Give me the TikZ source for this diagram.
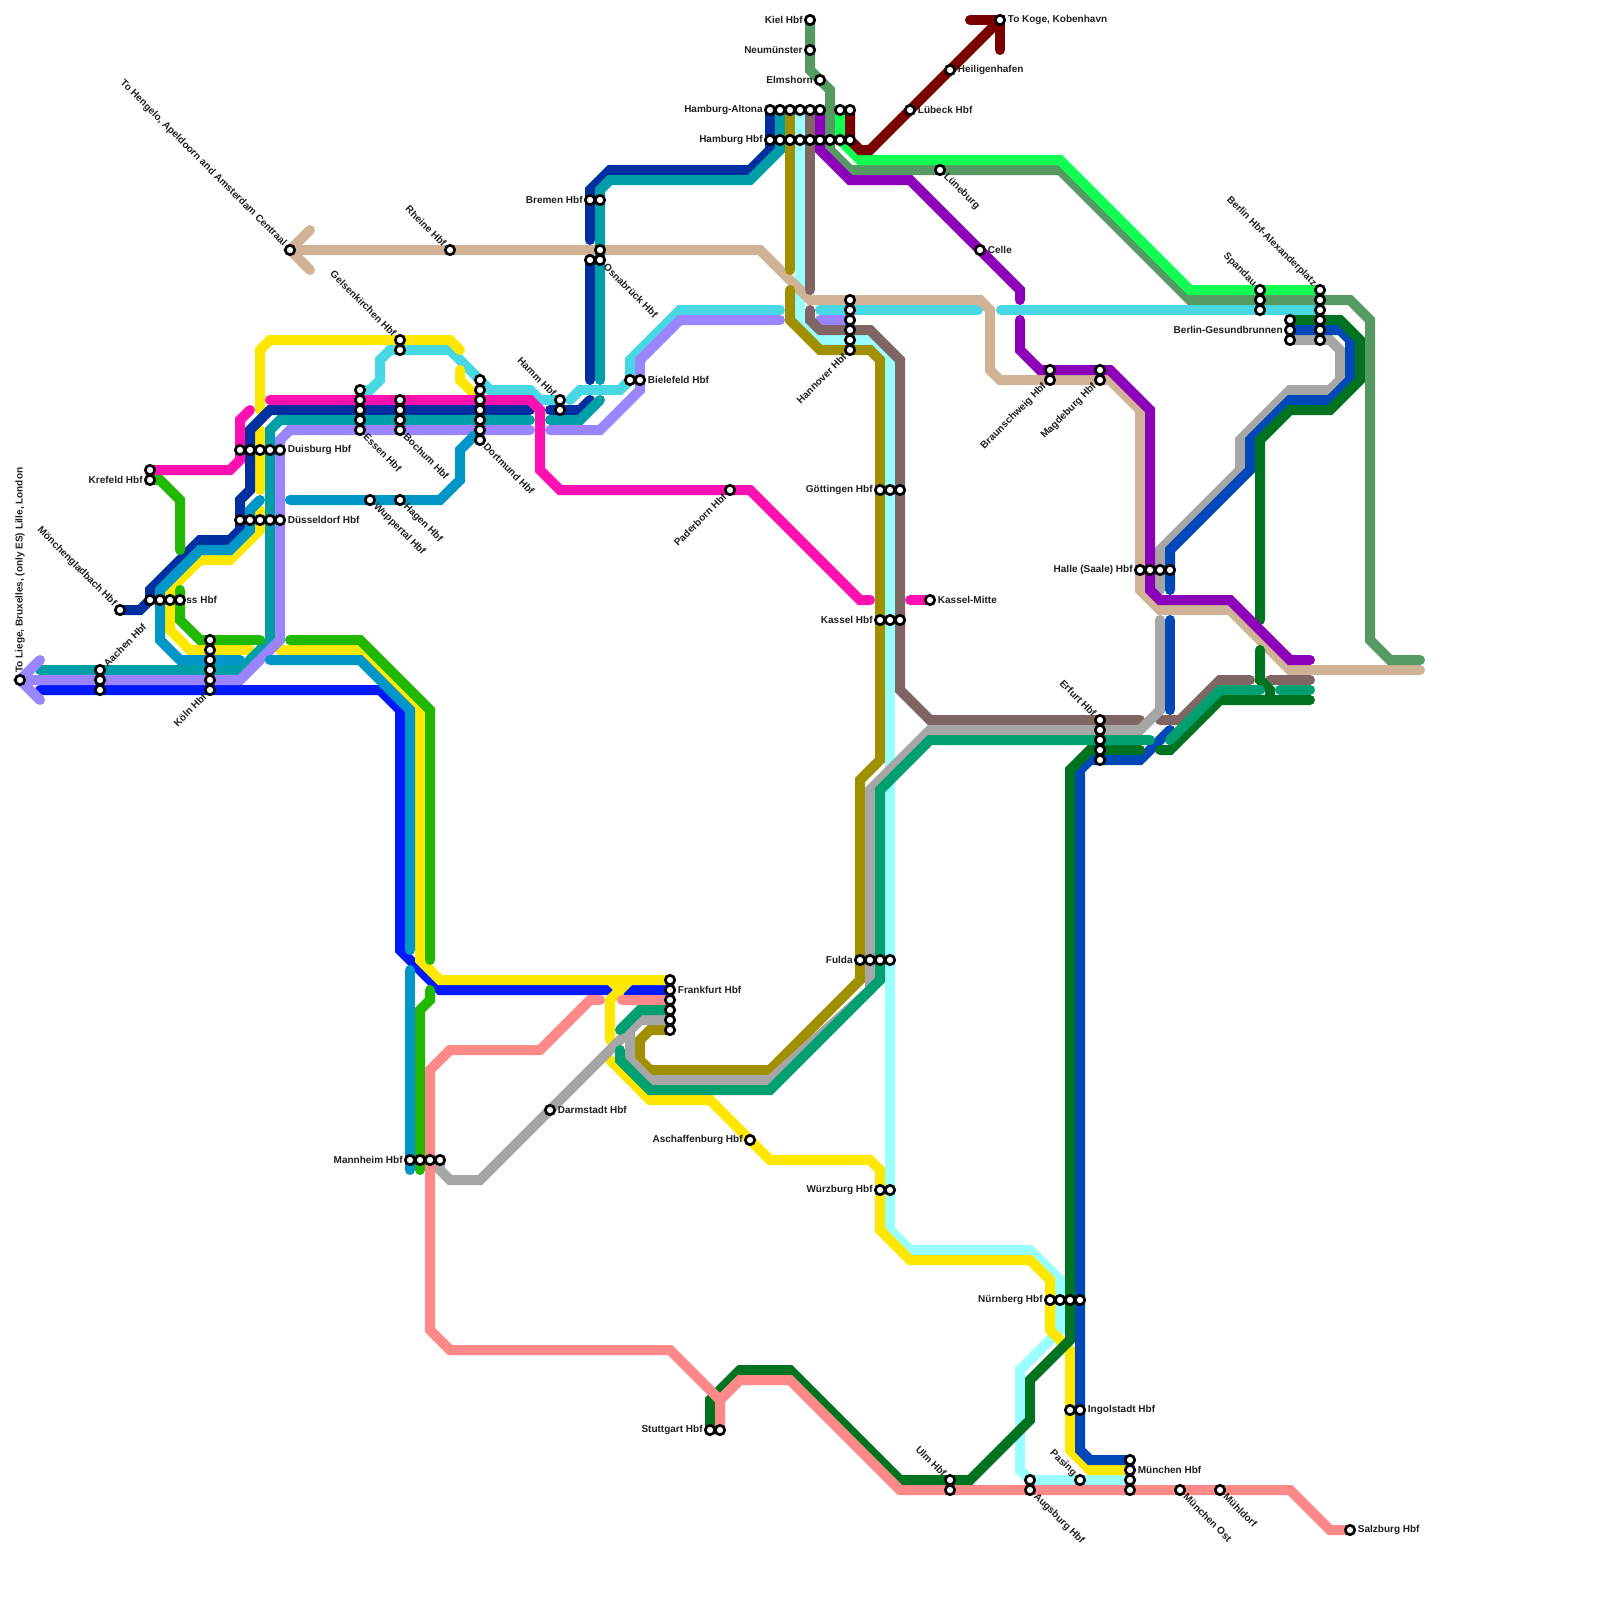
\documentclass[tikz,border=0pt]{standalone}
\usepackage{fontspec}
\setmainfont{Liberation Sans}
\usetikzlibrary{calc}
\pgfdeclarelayer{lines}
\pgfsetlayers{lines,main}
\definecolor{cTeal}{HTML}{009FA8}
\definecolor{cLilac}{HTML}{9A85FF}
\definecolor{cBlue}{HTML}{0019FF}
\definecolor{cNavy}{HTML}{0030A0}
\definecolor{cMagenta}{HTML}{FF10B0}
\definecolor{cYellow}{HTML}{FFE800}
\definecolor{cSky}{HTML}{0097C8}
\definecolor{cGreen}{HTML}{20B800}
\definecolor{cCyan}{HTML}{47D8E4}
\definecolor{cTan}{HTML}{D0B296}
\definecolor{cOlive}{HTML}{A09000}
\definecolor{cLight}{HTML}{99FFFF}
\definecolor{cMauve}{HTML}{806565}
\definecolor{cGray}{HTML}{A6A6A6}
\definecolor{cCobalt}{HTML}{0047B8}
\definecolor{cDark}{HTML}{007320}
\definecolor{cTG}{HTML}{00A070}
\definecolor{cPink}{HTML}{FF8888}
\definecolor{cSage}{HTML}{559963}
\definecolor{cBright}{HTML}{10FF50}
\definecolor{cRed}{HTML}{7A0000}
\definecolor{cViolet}{HTML}{8C00BA}
\tikzset{
  ln/.style={line width=5pt,line cap=round,draw=#1},
  stn/.style={circle,draw=black,fill=white,line width=1.35pt,minimum size=4.7pt,inner sep=0pt,outer sep=0pt},
  lab/.style={inner sep=0pt,font=\fontsize{5}{6}\selectfont\bfseries,text=black!88}
}
\newcommand\stn[3]{\node[stn] (#1) at (#2,#3) {};}
\newcommand\lblR[2]{\node[lab,anchor=west] (l#1) at ([shift={(7.5,0)}]#1.center) {#2};}
\newcommand\lblL[2]{\node[lab,anchor=east] (l#1) at ([shift={(-7,0)}]#1.center) {#2};}
\newcommand\lblNW[2]{\node[lab,anchor=east,rotate=-45] (l#1) at ([shift={(-5,-5)}]#1.center) {#2};}
\newcommand\lblSE[2]{\node[lab,anchor=west,rotate=-45] (l#1) at ([shift={(5,5)}]#1.center) {#2};}
\newcommand\lblNE[2]{\node[lab,anchor=west,rotate=45] (l#1) at ([shift={(5,-5)}]#1.center) {#2};}
\newcommand\lblSW[2]{\node[lab,anchor=east,rotate=45] (l#1) at ([shift={(-5,5)}]#1.center) {#2};}
\begin{document}
\begin{tikzpicture}[x=0.5pt,y=-0.5pt]
\useasboundingbox (0,0) rectangle (1600,1600);
% stations
\stn{liege}{20}{680}
\stn{aachenA}{100}{670}\stn{aachenB}{100}{680}\stn{aachenC}{100}{690}
\stn{kolnA}{210}{640}\stn{kolnB}{210}{650}\stn{kolnC}{210}{660}\stn{kolnD}{210}{670}\stn{kolnE}{210}{680}\stn{kolnF}{210}{690}
\stn{mgb}{120}{610}
\stn{neussA}{150}{600}\stn{neussB}{160}{600}\stn{neussC}{170}{600}\stn{neussD}{180}{600}
\stn{krefA}{150}{470}\stn{krefB}{150}{480}
\stn{duisA}{240}{450}\stn{duisB}{250}{450}\stn{duisC}{260}{450}\stn{duisD}{270}{450}\stn{duisE}{280}{450}
\stn{dusA}{240}{520}\stn{dusB}{250}{520}\stn{dusC}{260}{520}\stn{dusD}{270}{520}\stn{dusE}{280}{520}
\stn{essA}{360}{390}\stn{essB}{360}{400}\stn{essC}{360}{410}\stn{essD}{360}{420}\stn{essE}{360}{430}
\stn{wupp}{370}{500}\stn{hagen}{400}{500}
\stn{bochA}{400}{400}\stn{bochB}{400}{410}\stn{bochC}{400}{420}\stn{bochD}{400}{430}
\stn{gelsA}{400}{340}\stn{gelsB}{400}{350}
\stn{dortA}{480}{380}\stn{dortB}{480}{390}\stn{dortC}{480}{400}\stn{dortD}{480}{410}\stn{dortE}{480}{420}\stn{dortF}{480}{430}\stn{dortG}{480}{440}
\stn{hammA}{560}{400}\stn{hammB}{560}{410}
\stn{bielA}{630}{380}\stn{bielB}{640}{380}
\stn{pader}{730}{490}
\stn{bremA}{590}{200}\stn{bremB}{600}{200}
\stn{osnA}{600}{250}\stn{osnB}{590}{260}\stn{osnC}{600}{260}
\stn{rheine}{450}{250}\stn{hengelo}{290}{250}
\stn{kiel}{810}{20}\stn{neum}{810}{50}\stn{elms}{820}{80}
\stn{altA}{770}{110}\stn{altB}{780}{110}\stn{altC}{790}{110}\stn{altD}{800}{110}\stn{altE}{810}{110}\stn{altF}{820}{110}\stn{altG}{840}{110}\stn{altH}{850}{110}
\stn{hhA}{770}{140}\stn{hhB}{780}{140}\stn{hhC}{790}{140}\stn{hhD}{800}{140}\stn{hhE}{810}{140}\stn{hhF}{820}{140}\stn{hhG}{830}{140}\stn{hhH}{840}{140}\stn{hhI}{850}{140}
\stn{lub}{910}{110}\stn{heil}{950}{70}\stn{koge}{1000}{20}\stn{lune}{940}{170}\stn{celle}{980}{250}
\stn{hanA}{850}{300}\stn{hanB}{850}{310}\stn{hanC}{850}{320}\stn{hanD}{850}{330}\stn{hanE}{850}{340}\stn{hanF}{850}{350}
\stn{brauA}{1050}{370}\stn{brauB}{1050}{380}\stn{magdA}{1100}{370}\stn{magdB}{1100}{380}
\stn{spanA}{1260}{290}\stn{spanB}{1260}{300}\stn{spanC}{1260}{310}
\stn{alexA}{1320}{290}\stn{alexB}{1320}{300}\stn{alexC}{1320}{310}\stn{alexD}{1320}{320}\stn{alexE}{1320}{330}\stn{alexF}{1320}{340}
\stn{gesA}{1290}{320}\stn{gesB}{1290}{330}\stn{gesC}{1290}{340}
\stn{halleA}{1140}{570}\stn{halleB}{1150}{570}\stn{halleC}{1160}{570}\stn{halleD}{1170}{570}
\stn{erfA}{1100}{720}\stn{erfB}{1100}{730}\stn{erfC}{1100}{740}\stn{erfD}{1100}{750}\stn{erfE}{1100}{760}
\stn{goetA}{880}{490}\stn{goetB}{890}{490}\stn{goetC}{900}{490}
\stn{kasA}{880}{620}\stn{kasB}{890}{620}\stn{kasC}{900}{620}\stn{kmit}{930}{600}
\stn{fulA}{860}{960}\stn{fulB}{870}{960}\stn{fulC}{880}{960}\stn{fulD}{890}{960}
\stn{wuerzA}{880}{1190}\stn{wuerzB}{890}{1190}
\stn{fraA}{670}{980}\stn{fraB}{670}{990}\stn{fraC}{670}{1000}\stn{fraD}{670}{1010}\stn{fraE}{670}{1020}\stn{fraF}{670}{1030}
\stn{darm}{550}{1110}\stn{asch}{750}{1140}
\stn{mannA}{410}{1160}\stn{mannB}{420}{1160}\stn{mannC}{430}{1160}\stn{mannD}{440}{1160}
\stn{stuA}{710}{1430}\stn{stuB}{720}{1430}
\stn{ulmA}{950}{1480}\stn{ulmB}{950}{1490}
\stn{augA}{1030}{1480}\stn{augB}{1030}{1490}\stn{pas}{1080}{1480}
\stn{munA}{1130}{1460}\stn{munB}{1130}{1470}\stn{munC}{1130}{1480}\stn{munD}{1130}{1490}
\stn{most}{1180}{1490}\stn{muhl}{1220}{1490}\stn{salz}{1350}{1530}
\stn{nurA}{1050}{1300}\stn{nurB}{1060}{1300}\stn{nurC}{1070}{1300}\stn{nurD}{1080}{1300}
\stn{ingA}{1070}{1410}\stn{ingB}{1080}{1410}
% labels
\node[lab,anchor=west,rotate=90] (lliege) at ([shift={(0,-7)}]liege.center) {To Liege, Bruxelles, (only ES) Lille, London};
\lblNE{aachenA}{Aachen Hbf}\lblSW{kolnF}{Köln Hbf}\lblNW{mgb}{Mönchengladbach Hbf}
\node[lab,anchor=west] (lneuss) at (186,599.5) {ss Hbf};
\lblL{krefB}{Krefeld Hbf}\lblR{duisE}{Duisburg Hbf}\lblR{dusE}{Düsseldorf Hbf}
\lblSE{essE}{Essen Hbf}\lblSE{wupp}{Wuppertal Hbf}\lblSE{hagen}{Hagen Hbf}\lblSE{bochD}{Bochum Hbf}
\lblNW{gelsA}{Gelsenkirchen Hbf}\lblSE{dortG}{Dortmund Hbf}\lblNW{hammA}{Hamm Hbf}\lblR{bielB}{Bielefeld Hbf}
\lblSW{pader}{Paderborn Hbf}\lblL{bremA}{Bremen Hbf}\lblSE{osnC}{Osnabrück Hbf}\lblNW{rheine}{Rheine Hbf}
\lblNW{hengelo}{To Hengelo, Apeldoorn and Amsterdam Centraal}
\lblL{kiel}{Kiel Hbf}\lblL{neum}{Neumünster}\lblL{elms}{Elmshorn}\lblL{altA}{Hamburg-Altona}\lblL{hhA}{Hamburg Hbf}
\lblR{lub}{Lübeck Hbf}\lblR{heil}{Heiligenhafen}\lblR{koge}{To Koge, Kobenhavn}\lblSE{lune}{Lüneburg}\lblR{celle}{Celle}
\lblSW{hanF}{Hannover Hbf}\lblSW{brauB}{Braunschweig Hbf}\lblSW{magdB}{Magdeburg Hbf}
\lblNW{spanA}{Spandau}\lblNW{alexA}{Berlin Hbf-Alexanderplatz}\lblL{gesB}{Berlin-Gesundbrunnen}
\lblL{halleA}{Halle (Saale) Hbf}\lblNW{erfA}{Erfurt Hbf}\lblL{goetA}{Göttingen Hbf}\lblL{kasA}{Kassel Hbf}\lblR{kmit}{Kassel-Mitte}
\lblL{fulA}{Fulda}\lblL{wuerzA}{Würzburg Hbf}\lblR{fraB}{Frankfurt Hbf}\lblR{darm}{Darmstadt Hbf}\lblL{asch}{Aschaffenburg Hbf}
\lblL{mannA}{Mannheim Hbf}\lblL{stuA}{Stuttgart Hbf}\lblNW{ulmA}{Ulm Hbf}\lblSE{augB}{Augsburg Hbf}\lblNW{pas}{Pasing}
\lblR{munB}{München Hbf}\lblSE{most}{München Ost}\lblSE{muhl}{Mühldorf}\lblR{salz}{Salzburg Hbf}
\lblL{nurA}{Nürnberg Hbf}\lblR{ingB}{Ingolstadt Hbf}
% lines
\begin{pgfonlayer}{lines}
% light cyan
\draw[ln=cLight] (altD.center) -- (800,320) -- (820,340) -- (870,340) -- (890,360) -- (890,1230) -- (910,1250) -- (1030,1250) -- (1060,1280) -- (1060,1330) -- (1020,1370) -- (1020,1470) -- (augA.center) -- (munC.center);
% bright blue
\draw[ln=cBlue] (40,690) -- (380,690) -- (400,710) -- (400,950) -- (440,990) -- (615,990);
\draw[ln=cBlue] (625,990) -- (fraB.center);
% cyan
\draw[ln=cCyan] (essA.center) -- (370,390) -- (380,380) -- (380,360) -- (390,350) -- (450,350) -- (490,390) -- (530,390) -- (540,400) -- (hammA.center);
\draw[ln=cCyan] (570,400) -- (580,390) -- (620,390) -- (630,380) -- (630,360) -- (680,310) -- (780,310);
\draw[ln=cCyan] (820,310) -- (978,310);
\draw[ln=cCyan] (1001,310) -- (alexC.center);
% yellow
\draw[ln=cYellow] (260,410) -- (260,350) -- (270,340) -- (450,340) -- (460,350);
\draw[ln=cYellow] (460,370) -- (460,380) -- (475,395);
\draw[ln=cYellow] (260,430) -- (260,490);
\draw[ln=cYellow] (260,510) -- (260,530) -- (230,560) -- (200,560) -- (170,590) -- (170,630) -- (190,650) -- (250,650);
\draw[ln=cYellow] (280,650) -- (360,650) -- (420,710) -- (420,960) -- (440,980) -- (fraA.center);
\draw[ln=cYellow] (610,980) -- (620,990);
\draw[ln=cYellow] (630,980) -- (610,1000) -- (610,1040);
\draw[ln=cYellow] (610,1060) -- (650,1100) -- (710,1100) -- (770,1160) -- (870,1160) -- (880,1170) -- (880,1230) -- (910,1260) -- (1030,1260) -- (1050,1280) -- (1050,1330) -- (1070,1350) -- (1070,1450) -- (1090,1470) -- (munB.center);
% navy
\draw[ln=cNavy] (mgb.center) -- (140,610) -- (150,600) -- (150,590) -- (200,540) -- (230,540) -- (240,530) -- (240,500) -- (250,490) -- (250,430) -- (270,410) -- (530,410);
\draw[ln=cNavy] (550,410) -- (580,410) -- (590,400);
\draw[ln=cNavy] (osnB.center) -- (590,380);
\draw[ln=cNavy] (590,240) -- (590,190) -- (610,170) -- (750,170) -- (770,150) -- (altA.center);
% tan
\draw[ln=cTan] (310,230) -- (hengelo.center) -- (310,270);
\draw[ln=cTan] (hengelo.center) -- (760,250) -- (810,300) -- (980,300) -- (990,310) -- (990,370) -- (1000,380) -- (1110,380) -- (1140,410) -- (1140,590) -- (1160,610) -- (1230,610) -- (1290,670) -- (1420,670);
% teal
\draw[ln=cTeal] (40,670) -- (240,670) -- (270,640) -- (270,430) -- (280,420) -- (530,420);
\draw[ln=cTeal] (550,420) -- (580,420) -- (600,400);
\draw[ln=cTeal] (600,380) -- (600,190) -- (610,180) -- (750,180) -- (780,150) -- (altB.center);
% lilac
\draw[ln=cLilac] (40,660) -- (liege.center) -- (40,700);
\draw[ln=cLilac] (liege.center) -- (240,680) -- (280,640) -- (280,440) -- (290,430) -- (530,430);
\draw[ln=cLilac] (550,430) -- (600,430) -- (640,390) -- (640,360) -- (680,320) -- (780,320);
\draw[ln=cLilac] (820,320) -- (hanC.center);
% magenta
\draw[ln=cMagenta] (krefA.center) -- (230,470) -- (240,460) -- (240,420) -- (250,410);
\draw[ln=cMagenta] (270,400) -- (530,400) -- (540,410) -- (540,470) -- (560,490) -- (750,490) -- (860,600) -- (870,600);
\draw[ln=cMagenta] (910,600) -- (kmit.center);
% sky
\draw[ln=cSky] (290,500) -- (440,500) -- (460,480) -- (460,450) -- (475,435);
\draw[ln=cSky] (260,500) -- (250,510) -- (250,530) -- (230,550) -- (200,550) -- (160,590) -- (160,640) -- (180,660) -- (240,660);
\draw[ln=cSky] (270,660) -- (360,660) -- (410,710) -- (410,950);
\draw[ln=cSky] (410,970) -- (410,1170);
% green
\draw[ln=cGreen] (krefB.center) -- (160,480) -- (180,500) -- (180,550);
\draw[ln=cGreen] (180,590) -- (180,620) -- (200,640) -- (260,640);
\draw[ln=cGreen] (290,640) -- (360,640) -- (430,710) -- (430,960);
\draw[ln=cGreen] (430,990) -- (430,1000) -- (420,1010) -- (420,1170);
% olive
\draw[ln=cOlive] (altC.center) -- (790,270);
\draw[ln=cOlive] (790,290) -- (790,320) -- (820,350) -- (870,350) -- (880,360) -- (880,760) -- (860,780) -- (860,980) -- (770,1070) -- (650,1070) -- (640,1060) -- (640,1040) -- (650,1030) -- (fraF.center);
% mauve
\draw[ln=cMauve] (altE.center) -- (810,290);
\draw[ln=cMauve] (810,310) -- (810,320) -- (820,330) -- (870,330) -- (900,360) -- (900,690) -- (930,720) -- (1140,720);
\draw[ln=cMauve] (1160,720) -- (1180,720) -- (1220,680) -- (1250,680);
\draw[ln=cMauve] (1270,680) -- (1310,680);
% gray
\draw[ln=cGray] (mannD.center) -- (440,1170) -- (450,1180) -- (480,1180) -- (640,1020) -- (fraE.center);
\draw[ln=cGray] (640,1020) -- (630,1030) -- (630,1060) -- (650,1080) -- (770,1080) -- (870,990) -- (870,790) -- (930,730) -- (1140,730) -- (1160,710) -- (1160,620);
\draw[ln=cGray] (1160,590) -- (1160,550) -- (1240,470) -- (1240,440) -- (1290,390) -- (1330,390) -- (1340,380) -- (1340,350) -- (1330,340) -- (gesC.center);
% cobalt
\draw[ln=cCobalt] (1170,590) -- (1170,550) -- (1250,470) -- (1250,440) -- (1290,400) -- (1330,400) -- (1350,380) -- (1350,340) -- (1340,330) -- (gesB.center);
\draw[ln=cCobalt] (1170,620) -- (1170,710);
\draw[ln=cCobalt] (1170,730) -- (1140,760) -- (1090,760) -- (1080,770) -- (1080,1450) -- (1090,1460) -- (munA.center);
% dark green
\draw[ln=cDark] (gesA.center) -- (1340,320) -- (1360,340) -- (1360,380) -- (1330,410) -- (1290,410) -- (1260,440) -- (1260,620);
\draw[ln=cDark] (1260,650) -- (1260,680) -- (1270,690) -- (1270,700);
\draw[ln=cDark] (1310,700) -- (1220,700) -- (1170,750) -- (1160,750);
\draw[ln=cDark] (1140,750) -- (1090,750) -- (1070,770) -- (1070,1340) -- (1030,1380) -- (1030,1420) -- (970,1480) -- (900,1480) -- (790,1370) -- (740,1370) -- (710,1400) -- (stuA.center);
% teal green
\draw[ln=cTG] (620,1030) -- (640,1010) -- (fraD.center);
\draw[ln=cTG] (620,1050) -- (620,1060) -- (650,1090) -- (770,1090) -- (880,980) -- (880,790) -- (930,740) -- (1150,740);
\draw[ln=cTG] (1170,740) -- (1220,690) -- (1260,690);
\draw[ln=cTG] (1280,690) -- (1310,690);
% pink
\draw[ln=cPink] (600,1000) -- (590,1000) -- (540,1050) -- (450,1050) -- (430,1070) -- (430,1330) -- (450,1350) -- (670,1350) -- (720,1400) -- (stuB.center);
\draw[ln=cPink] (622,1000) -- (fraC.center);
\draw[ln=cPink] (720,1400) -- (740,1380) -- (790,1380) -- (900,1490) -- (1290,1490) -- (1330,1530) -- (salz.center);
% sage
\draw[ln=cSage] (kiel.center) -- (810,70) -- (830,90) -- (830,150) -- (850,170) -- (1060,170) -- (1190,300) -- (1350,300) -- (1370,320) -- (1370,640) -- (1390,660) -- (1420,660);
% bright green
\draw[ln=cBright] (altG.center) -- (840,140) -- (860,160) -- (1060,160) -- (1190,290) -- (alexA.center);
% dark red
\draw[ln=cRed] (altH.center) -- (850,140) -- (860,150) -- (870,150) -- (koge.center);
\draw[ln=cRed] (970,20) -- (koge.center) -- (1000,50);
% violet
\draw[ln=cViolet] (altF.center) -- (820,150) -- (850,180) -- (910,180) -- (1020,290) -- (1020,300);
\draw[ln=cViolet] (1020,320) -- (1020,350) -- (1040,370) -- (1110,370) -- (1150,410) -- (1150,590) -- (1160,600) -- (1230,600) -- (1290,660) -- (1310,660);
\end{pgfonlayer}
\end{tikzpicture}
\end{document}
